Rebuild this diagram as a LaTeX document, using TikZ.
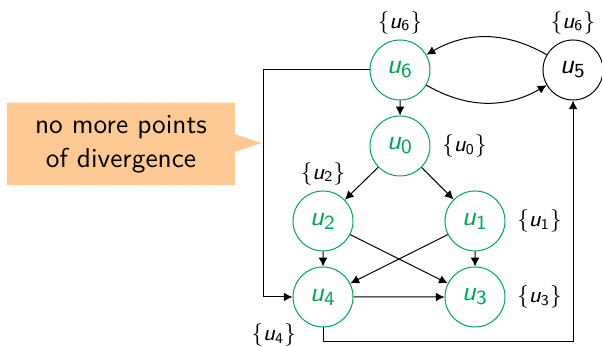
\documentclass[11pt,tikz,border=0pt]{standalone}
\usepackage{amsmath,amssymb}
\usepackage{xcolor}
\usepackage{tikz}
\usetikzlibrary{arrows.meta,positioning,shapes.callouts}

\definecolor{divgreen}{RGB}{0,166,81}
\definecolor{divorange}{RGB}{255,201,147}
\newcommand{\uv}[1]{\ensuremath{\textit{u}_{\text{#1}}}}

\begin{document}
\sffamily
\begin{tikzpicture}[scale=0.5623, >={Latex[length=3.5pt,width=3.5pt]},
  vert/.style={circle, draw=divgreen, text=divgreen, minimum size=24pt, inner sep=0pt},
  blackvert/.style={circle, draw, minimum size=24pt, inner sep=0pt},
  lbl/.style={font=\footnotesize, inner sep=2pt},
  rlbl/.style={lbl, label distance=2.5pt},
  note/.style={rectangle callout, fill=divorange, align=center, minimum width=91pt, minimum height=33pt}]
  \useasboundingbox (0,0) rectangle (15.05,8.675);
  % the graph
  \node[vert, label={[lbl]above:$\{\uv{6}\}$}] (u6) at (10,6.925) {\uv{6}};
  \node[blackvert, label={[lbl]above:$\{\uv{6}\}$}] (u5) at (14.325,6.925) {\uv{5}};
  \node[vert, label={[rlbl]right:$\{\uv{0}\}$}] (u0) at (10,5.025) {\uv{0}};
  \node[vert, label={[lbl]above:$\{\uv{2}\}$}] (u2) at (8.075,3.15) {\uv{2}};
  \node[vert, label={[rlbl]right:$\{\uv{1}\}$}] (u1) at (11.875,3.15) {\uv{1}};
  \node[vert, label={[lbl]below left:$\{\uv{4}\}$}] (u4) at (8.075,1.25) {\uv{4}};
  \node[vert, label={[rlbl]right:$\{\uv{3}\}$}] (u3) at (11.875,1.25) {\uv{3}};
  % edges
  \draw[->] (u6) -- (u0);
  \draw[->] (u0) -- (u2);
  \draw[->] (u0) -- (u1);
  \draw[->] (u2) -- (u4);
  \draw[->] (u1) -- (u3);
  \draw[->] (u2) -- (u3);
  \draw[->] (u1) -- (u4);
  \draw[->] (u4) -- (u3);
  \draw[->] (u6) to[bend right=30] (u5);
  \draw[->] (u5) to[bend right=30] (u6);
  % back edges round the outside
  \coordinate (lft) at (6.575,6.925);
  \coordinate (bot) at (8.075,0.125);
  \draw[->] (u6.west) -- (lft) |- (u4.west);
  \draw[->] (u4.south) -- (bot) -| (u5.south);
  % callout
  \coordinate (tip) at (6.55,5.1);
  \node[note, callout absolute pointer=(tip)] (msg) at (3.025,5.075) {no more points\\of divergence};
\end{tikzpicture}
\end{document}
